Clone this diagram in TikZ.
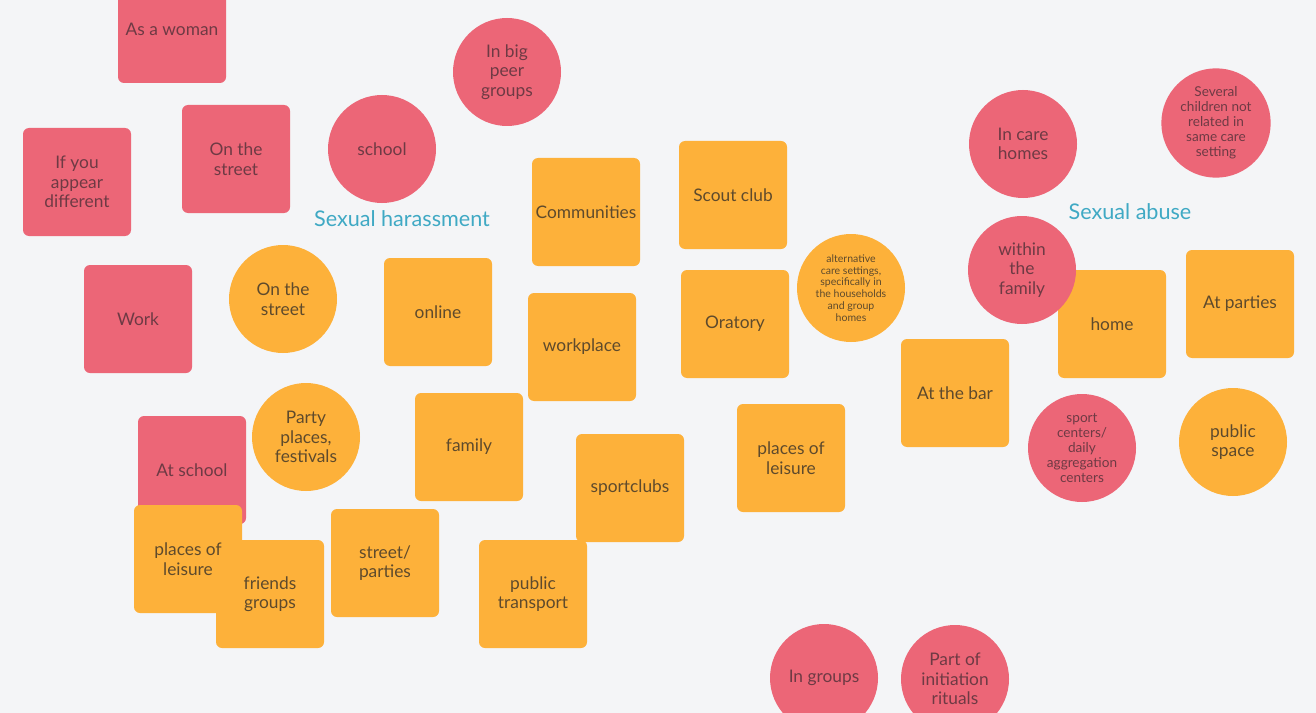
\documentclass[tikz,border=0pt]{standalone}
\usepackage{fontspec}
\setmainfont{Lato}
\usepackage{tikz}

\definecolor{bgcol}{HTML}{F4F5F7}
\definecolor{pinkcol}{HTML}{EC6677}
\definecolor{orangecol}{HTML}{FDB13A}
\definecolor{pinktext}{HTML}{6E3A44}
\definecolor{orangetext}{HTML}{5E4A2C}
\definecolor{titlecol}{HTML}{3FA9C4}

\begin{document}
\begin{tikzpicture}[x=0.75pt,y=-0.75pt,
    note/.style={align=center,inner sep=0pt,font=\fontsize{13}{14.6}\selectfont},
    pinkbox/.style={note,rectangle,rounded corners=4.5pt,fill=pinkcol,text=pinktext,minimum width=81pt,minimum height=81pt},
    orangebox/.style={note,rectangle,rounded corners=4.5pt,fill=orangecol,text=orangetext,minimum width=81pt,minimum height=81pt},
    pinkdot/.style={note,circle,fill=pinkcol,text=pinktext,minimum size=81pt},
    orangedot/.style={note,circle,fill=orangecol,text=orangetext,minimum size=81pt},
    small/.style={font=\fontsize{10.2}{11.3}\selectfont},
    tiny/.style={font=\fontsize{7.9}{8.8}\selectfont},
    title/.style={text=titlecol,font=\fontsize{16.2}{19}\selectfont}]
          \fill[bgcol] (0,0) rectangle (1316,713);
          \useasboundingbox (0,0) rectangle (1316,713);
          % sexual harassment
          \node[pinkbox] (woman) at (172,29) {As a woman};
          \node[pinkbox] (different) at (77,182) {If you\\appear\\different};
          \node[pinkbox] (street) at (236,159) {On the\\street};
          \node[pinkbox] (work) at (138,319) {Work};
          \node[pinkbox] (atschool) at (192,470) {At school};
          \node[orangebox] (friends) at (270,594) {friends\\groups};
          \node[orangebox] (leisure) at (188,559) {places of\\leisure};
          \node[orangebox] (parties) at (385,563) {street/\\parties};
          \node[orangebox] (online) at (438,312) {online};
          \node[orangebox] (family) at (469,447) {family};
          \node[orangebox] (communities) at (586,212) {Communities};
          \node[orangebox] (workplace) at (582,347) {workplace};
          \node[orangebox] (sportclubs) at (630,488) {sportclubs};
          \node[orangebox] (transport) at (533,594) {public\\transport};
          \node[orangebox] (scout) at (733,195) {Scout club};
          \node[orangebox] (oratory) at (735,324) {Oratory};
          \node[orangebox] (leisuretwo) at (791,458) {places of\\leisure};
          \node[pinkdot] (peer) at (507,72) {In big\\peer\\groups};
          \node[pinkdot] (school) at (382,149) {school};
          \node[orangedot] (streetdot) at (283,299) {On the\\street};
          \node[orangedot] (festivals) at (306,437) {Party\\places,\\festivals};
          \node[title] (harassment) at (402,219) {Sexual harassment};
          % sexual abuse
          \node[orangebox] (bar) at (955,393) {At the bar};
          \node[orangebox] (home) at (1112,324) {home};
          \node[orangebox] (atparties) at (1240,304) {At parties};
          \node[orangedot,tiny] (alternative) at (851,288) {alternative\\care settings,\\specifically in\\the households\\and group\\homes};
          \node[orangedot] (public) at (1233,442) {public\\space};
          \node[pinkdot] (carehomes) at (1023,144) {In care\\homes};
          \node[pinkdot,small,minimum size=82pt] (several) at (1216,123) {Several\\children not\\related in\\same care\\setting};
          \node[pinkdot] (withinfamily) at (1022,270) {within\\the\\family};
          \node[pinkdot,small] (sportcenters) at (1082,448) {sport\\centers/\\daily\\aggregation\\centers};
          \node[pinkdot] (groups) at (824,678) {In groups};
          \node[pinkdot] (rituals) at (955,679) {Part of\\initiation\\rituals};
          \node[title] (abuse) at (1130,212) {Sexual abuse};
        \end{tikzpicture}
\end{document}
